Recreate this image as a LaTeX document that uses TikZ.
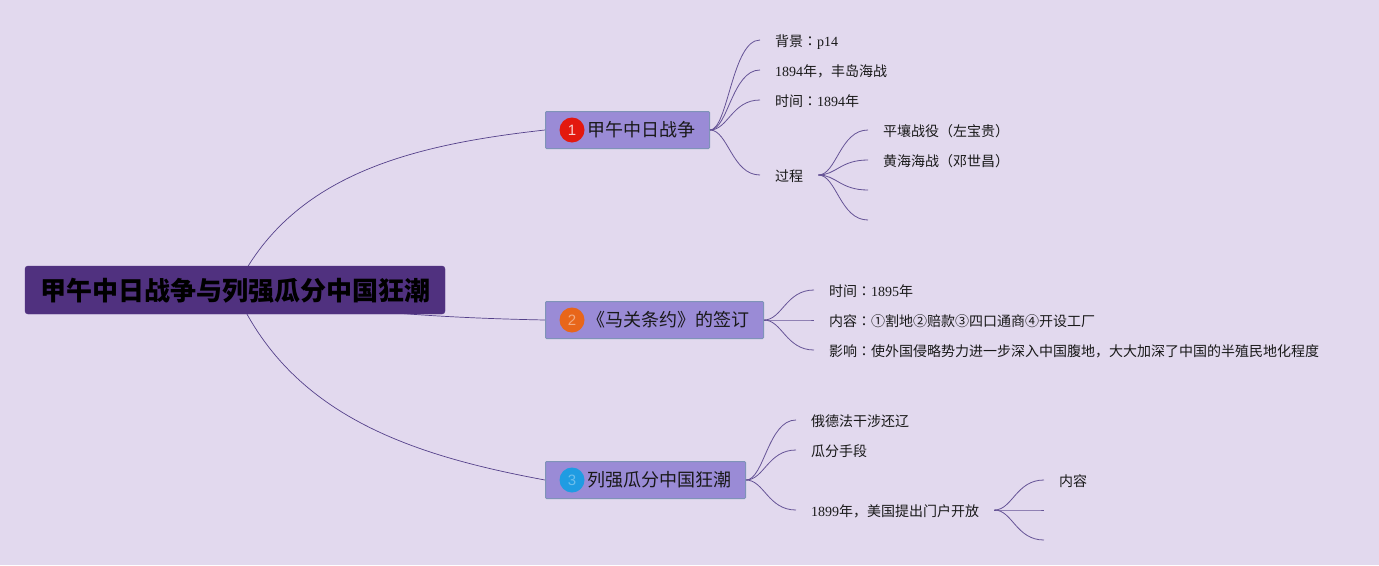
\documentclass[tikz,border=0pt]{standalone}
\usepackage{tikz}
\usepackage{xcolor}
\usepackage{fontspec}
\usetikzlibrary{backgrounds, positioning}
\setmainfont{Liberation Serif}
\newfontfamily\cjk{Noto Sans CJK SC}
\newfontfamily\cjktc{Noto Sans CJK TC}
\newfontfamily\badgefont{Liberation Sans}
\newcommand{\colonmark}{{\cjktc ：}}
\definecolor{bgcol}{HTML}{E2D9EE}
\definecolor{rootcol}{HTML}{50317F}
\definecolor{topiccol}{HTML}{9A8BD6}
\definecolor{edgecol}{HTML}{7F93B8}
\definecolor{linkcol}{HTML}{54408A}
\definecolor{redcol}{HTML}{E3190F}
\definecolor{orangecol}{HTML}{E8661A}
\definecolor{bluecol}{HTML}{1F9CE2}

\begin{document}
\begin{tikzpicture}[
            x=1pt, y=-1pt,
            rootnode/.style={draw=rootcol, fill=rootcol, rounded corners=3pt, anchor=center, minimum width=420pt, inner xsep=0pt, inner ysep=0pt,
              minimum height=48pt, text height=22.5pt, text depth=2.5pt, text=black,
              font=\cjk\bfseries\fontsize{26pt}{30pt}\selectfont},
            topic/.style={draw=edgecol, line width=1pt, fill=topiccol, rounded corners=1pt, anchor=west, inner xsep=0pt, inner ysep=0pt,
              minimum height=37pt, text height=15.7pt, text depth=2pt, text=black!90,
              font=\cjk\fontsize{18pt}{20pt}\selectfont},
            badge/.style={circle, inner sep=0pt, minimum size=25pt,
              font=\badgefont\fontsize{15pt}{16pt}\selectfont},
            leaf/.style={anchor=west, inner xsep=15pt, inner ysep=0pt, text height=14pt, text depth=1.4pt, text=black!90,
              font=\fontsize{14pt}{16pt}\selectfont},
            link/.style={draw=linkcol!90, line width=0.8pt},
            mainlink/.style={draw=linkcol, line width=0.7pt}
          ]
            \path[use as bounding box] (0,0) rectangle (1379,565);

            % main branches
            \node[rootnode] (root) at (235,290) {甲午中日战争与列强瓜分中国狂潮};
            \node[topic] (war) at (545,130) {\hspace*{42pt}甲午中日战争\hspace*{14pt}};
            \node[topic] (treaty) at (545,320) {\hspace*{42pt}《马关条约》的签订\hspace*{14pt}};
            \node[topic] (carve) at (545,480) {\hspace*{42pt}列强瓜分中国狂潮\hspace*{14pt}};
            \node[badge, fill=redcol, text=white!80!redcol] (warbadge) at (572,130) {1};
            \node[badge, fill=orangecol, text=white!45!orangecol] (treatybadge) at (572,320) {2};
            \node[badge, fill=bluecol, text=white!35!bluecol] (carvebadge) at (572,480) {3};

            % first branch
            \node[leaf] (bg) at (760,40) {{\cjk 背景}\colonmark p14};
            \node[leaf] (feng) at (760,70) {1894{\cjk 年，丰岛海战}};
            \node[leaf] (time) at (760,100) {{\cjk 时间}\colonmark 1894{\cjk 年}};
            \node[leaf] (proc) at (760,175) {\cjk 过程};
            \node[leaf] (ping) at (868,130) {\cjk 平壤战役（左宝贵）};
            \node[leaf] (huang) at (868,160) {\cjk 黄海海战（邓世昌）};
            \coordinate (procc) at (868,190);
            \coordinate (procd) at (868,220);

            % second branch
            \node[leaf] (year) at (814,290) {{\cjk 时间}\colonmark 1895{\cjk 年}};
            \node[leaf] (terms) at (814,320) {{\cjk 内容}\colonmark{\cjk ①割地②赔款③四口通商④开设工厂}};
            \node[leaf] (effect) at (814,350) {{\cjk 影响}\colonmark{\cjk 使外国侵略势力进一步深入中国腹地，大大加深了中国的半殖民地化程度}};

            % third branch
            \node[leaf] (russia) at (796,420) {\cjk 俄德法干涉还辽};
            \node[leaf] (means) at (796,450) {\cjk 瓜分手段};
            \node[leaf] (open) at (796,510) {1899{\cjk 年，美国提出门户开放}};
            \node[leaf] (openc) at (1044,480) {\cjk 内容};
            \coordinate (openb) at (1044,510);
            \coordinate (opend) at (1044,540);

            \begin{pgfonlayer}{background}
              \fill[bgcol] (0,0) rectangle (1379,565);
              \draw[mainlink] (root.center) .. controls +(55,-115) and +(-135,15) .. (war.west);
              \draw[mainlink] (root.center) .. controls +(100,22) and +(-100,-2) .. (treaty.west);
              \draw[mainlink] (root.center) .. controls +(55,125) and +(-135,-25) .. (carve.west);
            \end{pgfonlayer}

            \foreach \from/\to in {war/bg, war/feng, war/time, war/proc, proc/ping, proc/huang, proc/procc, proc/procd,
                treaty/year, treaty/terms, treaty/effect,
                carve/russia, carve/means, carve/open, open/openc, open/openb, open/opend}
              \draw[link] (\from.east) .. controls +(18,0) and +(-28,0) .. (\to.west);
          \end{tikzpicture}
\end{document}
